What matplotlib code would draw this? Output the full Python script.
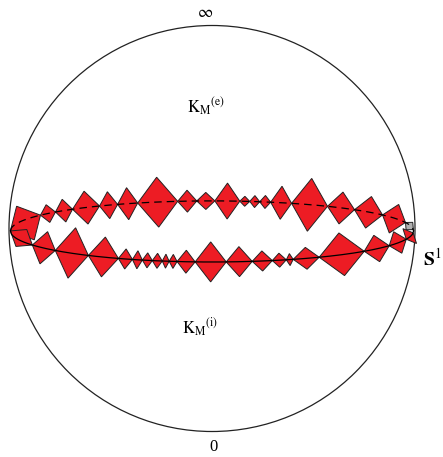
import matplotlib
matplotlib.use("Agg")
import matplotlib.pyplot as plt
import numpy as np
from matplotlib.patches import Polygon, Circle

plt.rcParams['mathtext.fontset'] = 'stix'
plt.rcParams['font.family'] = ['Liberation Serif', 'DejaVu Serif']

# diamond chains, widths along x and heights, in % of the circle radius
upper_widths = [14.8, 7.4, 8.4, 13.3, 8.9, 9.9, 19.7, 9.4, 8.9, 12.3, 4.9, 4.9,
                5.4, 10.3, 17.7, 13.3, 13.8, 11.3, 3.9]
upper_heights = [18.7, 8.9, 11.3, 16.3, 13.3, 15.8, 24.6, 10.8, 8.4, 17.7, 4.9,
                 5.9, 6.4, 16.3, 26.1, 15.8, 15.8, 14.8, 4.9]
lower_widths = [10.8, 11.3, 16.3, 14.8, 6.9, 4.9, 4.9, 4.9, 3.4, 3.9, 8.9, 15.3,
                12.8, 9.9, 6.9, 3.4, 12.8, 22.2, 12.3, 8.4, 3.4]
lower_heights = [9.9, 16.3, 25.1, 19.7, 9.9, 8.9, 7.4, 7.4, 6.9, 6.9, 11.3, 19.7,
                 14.8, 9.9, 6.9, 5.9, 10.8, 21.2, 13.3, 11.3, 9.9]

# the two curves are half ellipses through the circle
curve_cy = -0.012
curve_a = 0.993
upper_b = 0.148
lower_b = 0.153


def curve_y(x, b, sign):
    t = np.clip(x / curve_a, -1, 1)
    return curve_cy + sign * b * np.sqrt(1 - t ** 2)


def draw_chain(ax, widths, heights, b, sign, grey_last=False):
    x0 = -curve_a
    n = len(widths)
    for i, (w, h) in enumerate(zip(widths, heights)):
        x1 = x0 + w / 100.0
        p0 = np.array([x0, curve_y(x0, b, sign)])
        p1 = np.array([x1, curve_y(x1, b, sign)])
        m = (p0 + p1) / 2
        d = (p1 - p0) / np.linalg.norm(p1 - p0)
        nv = np.array([-d[1], d[0]])
        hh = h / 200.0
        verts = [p0, m + nv * hh, p1, m - nv * hh]
        fc = '#b0b0b0' if (grey_last and i == n - 1) else '#ed1c24'
        ax.add_patch(Polygon(verts, closed=True, facecolor=fc,
                             edgecolor='#222222', linewidth=0.7, zorder=2))
        x0 = x1


fig = plt.figure(figsize=(4.43, 4.57), dpi=100)
ax = fig.add_axes([0, 0, 1, 1])
ax.set_xlim(-1.0443, 1.1379)
ax.set_ylim(-1.1256, 1.1256)
ax.axis('off')

ax.add_patch(Circle((0, 0), 1.0, fill=False, edgecolor='#222222', linewidth=0.9))

draw_chain(ax, upper_widths, upper_heights, upper_b, 1, grey_last=True)
draw_chain(ax, lower_widths, lower_heights, lower_b, -1)

xs = np.linspace(-curve_a, curve_a, 400)
ax.plot(xs, curve_y(xs, upper_b, 1), color='black', linewidth=0.9,
        linestyle=(0, (6, 4)), zorder=3)
ax.plot(xs, curve_y(xs, lower_b, -1), color='black', linewidth=0.9, zorder=3)

ax.text(-0.034, 1.062, r'$\infty$', ha='center', va='center', fontsize=12)
ax.text(-0.123, 0.569, r'$\mathrm{K}_{\mathrm{M}}{}^{(\mathrm{e})}$',
        ha='left', va='baseline', fontsize=12)
ax.text(-0.148, -0.520, r'$\mathrm{K}_{\mathrm{M}}{}^{(\mathrm{i})}$',
        ha='left', va='baseline', fontsize=12)
ax.text(0.005, -1.078, '0', ha='center', va='center', fontsize=12)
ax.text(1.039, -0.180, r'$\mathbf{S}^{1}$', ha='left', va='baseline', fontsize=14)

fig.savefig('out.png', dpi=100)
